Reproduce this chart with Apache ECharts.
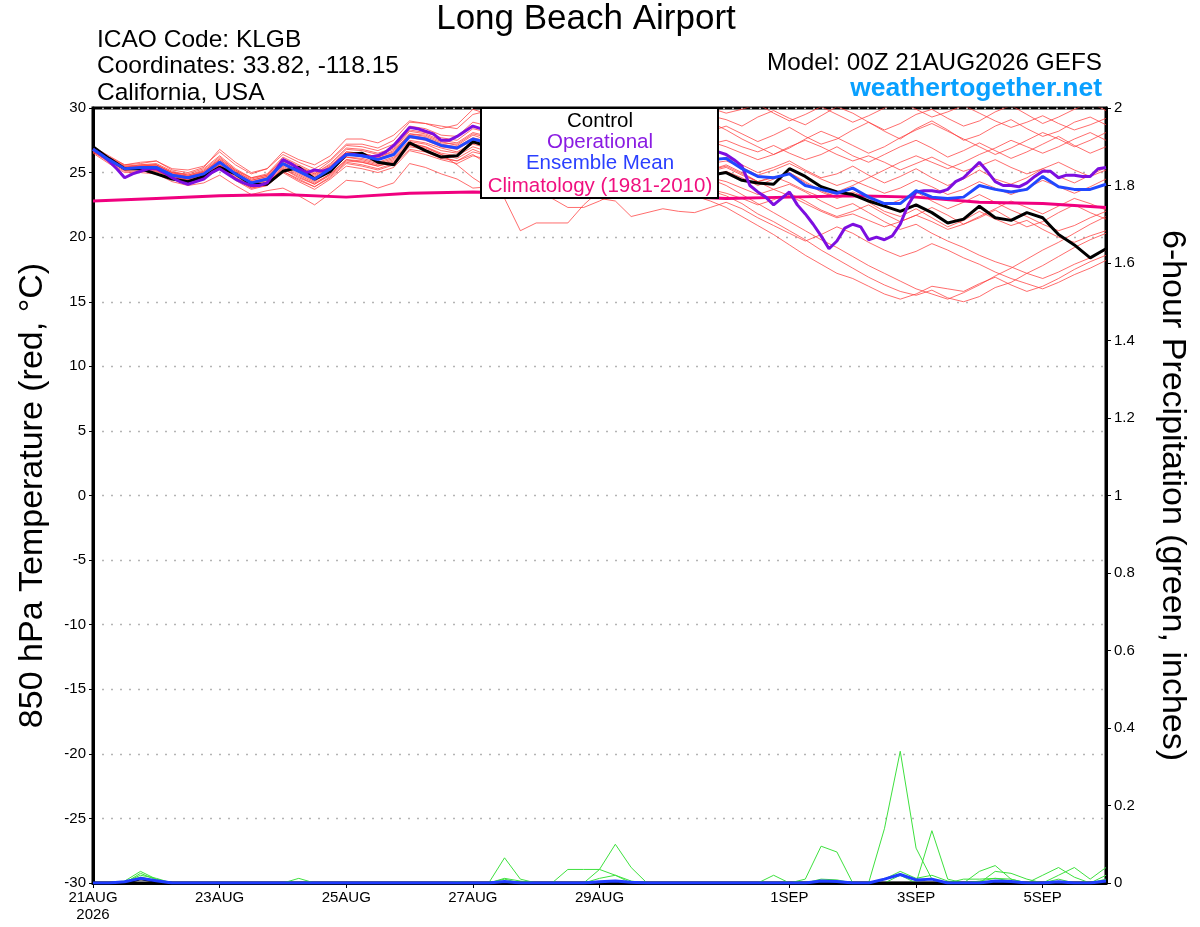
<!DOCTYPE html>
<html>
<head>
<meta charset="utf-8">
<script src="https://cdn.jsdelivr.net/npm/echarts@6/dist/echarts.min.js"></script>
<style>
html,body{margin:0;padding:0;background:#fff;overflow:hidden;}
#chart{width:1200px;height:927px;}
</style>
</head>
<body>
<div id="chart"></div>
<script>
// ---------------- DATA ----------------
// x-axis ticks (forecast hours from 00Z 21AUG2026)
const tickHours  = [0, 48, 96, 144, 192, 264, 312, 360];
const tickLabels = ['21AUG\n2026', '23AUG', '25AUG', '27AUG', '29AUG', '1SEP', '3SEP', '5SEP'];

// Control run (6-hourly, 65 points)
const controlTemp = [27.0,26.1,25.3,25.3,24.9,24.5,24.3,24.7,25.4,24.9,24.1,24.1,25.1,25.4,24.5,25.1,26.4,26.5,25.8,25.6,27.3,26.7,26.2,26.3,27.4,
  27.0,26.6,26.9,26.2,25.8,25.5,25.9,25.6,25.2,25.0,25.4,25.1,24.8,25.2,24.8,
  25.0,24.4,24.2,24.1,25.3,24.7,23.9,23.5,23.3,22.8,22.4,22.0,22.5,21.9,21.1,21.4,22.4,21.5,21.3,21.9,21.5,20.2,19.4,18.4,19.1];

// Ensemble mean (6-hourly)
const meanTemp = [26.8,26.0,25.3,25.4,25.4,24.8,24.6,24.9,25.8,24.9,24.2,24.5,25.7,25.1,24.5,25.3,26.4,26.3,26.0,26.4,27.8,27.6,27.1,26.9,27.6,
  27.3,27.0,27.4,27.1,26.7,26.5,26.8,26.6,26.2,26.0,26.3,26.1,25.8,26.2,26.0,
  26.1,25.3,24.7,24.6,24.9,24.0,23.7,23.4,23.8,23.1,22.6,22.6,23.6,23.1,23.0,23.1,24.0,23.7,23.5,23.7,24.7,23.9,23.7,23.7,24.1];

// Operational run (3-hourly, 129 points)
const operationalTemp = [26.8,26.4,25.9,25.3,24.6,24.9,25.1,25.3,25.3,25.0,24.6,24.3,24.1,24.3,24.5,25.0,25.3,24.9,24.5,24.2,24.0,24.0,24.2,25.1,26.0,
  25.7,25.3,25.0,25.2,25.1,25.3,25.9,26.4,26.4,26.3,26.2,26.3,26.6,27.1,27.8,28.5,28.4,28.2,28.0,27.5,27.5,27.8,28.2,28.6,
  28.4,28.0,27.6,27.9,28.3,28.8,28.5,27.9,27.4,27.0,26.6,26.8,27.2,27.5,27.1,26.7,26.3,26.0,26.2,26.6,27.0,26.8,26.4,26.1,25.8,26.0,26.3,26.7,26.9,26.8,
  26.6,26.4,26.0,25.5,24.0,23.5,23.1,22.5,23.0,23.5,22.5,21.8,21.0,20.1,19.1,19.7,20.7,21.0,20.8,19.8,20.0,19.8,20.1,
  21.0,22.5,23.5,23.6,23.6,23.5,23.7,24.3,24.6,25.2,25.8,25.1,24.3,24.0,24.0,23.9,24.2,24.7,25.1,25.1,24.6,24.8,24.8,24.7,24.7,25.3,25.4];

// Climatology 1981-2010 (daily, 17 points)
const climTemp = [22.8,23.0,23.2,23.3,23.1,23.4,23.5,23.4,23.3,23.2,23.0,23.1,23.2,23.1,22.7,22.6,22.3];

// Ensemble members (6-hourly)
const member01 = [27.0,26.3,25.6,25.8,25.9,25.3,25.2,25.5,26.6,25.6,24.9,25.3,26.6,26.0,25.6,26.3,27.6,27.6,27.3,27.9,29.0,28.8,28.6,28.4,29.5,
  29.8,30.2,29.6,29.1,28.7,29.3,29.8,29.2,28.6,28.9,29.5,29.0,28.4,28.8,29.4,
  29.1,28.6,29.3,29.8,29.2,28.7,29.4,30.1,29.6,28.9,28.3,28.8,29.5,29.9,29.2,28.6,29.0,29.7,30.2,29.5,28.8,29.3,29.9,30.4,29.8];
const member02 = [26.9,26.2,25.5,25.6,25.6,25.0,24.9,25.3,26.3,25.3,24.6,24.9,26.2,25.6,25.0,25.9,27.1,27.0,26.7,27.2,28.6,28.4,27.9,27.8,28.9,
  28.6,28.2,28.8,28.3,27.9,28.4,28.9,28.3,27.8,27.5,28.1,28.6,28.0,27.6,28.2,
  28.6,28.0,27.4,27.9,28.5,27.8,27.2,27.6,28.3,28.9,28.2,27.6,28.4,29.0,28.3,27.5,27.9,28.6,29.1,28.4,27.8,28.2,28.9,29.3,28.7];
const member03 = [26.7,26.1,25.4,25.6,25.7,25.1,24.8,25.1,26.1,25.2,24.5,24.8,26.0,25.4,24.9,25.6,26.8,26.7,26.4,26.8,28.2,28.0,27.5,27.3,28.1,
  27.8,27.4,27.9,27.5,27.1,26.8,27.3,27.0,26.6,26.9,27.4,26.9,26.5,26.8,27.2,
  27.5,27.0,26.6,27.1,26.5,26.0,26.4,27.0,26.3,25.8,26.4,27.0,27.5,26.9,26.2,26.7,27.3,26.7,26.1,26.6,27.2,27.8,27.1,26.5,27.0];
const member04 = [26.8,26.0,25.3,25.5,25.5,24.9,24.7,25.0,25.9,25.0,24.3,24.6,25.8,25.2,24.6,25.4,26.5,26.4,26.1,26.5,27.9,27.7,27.2,27.0,27.7,
  27.4,27.0,27.5,27.1,26.7,26.4,26.8,26.5,26.1,25.9,26.4,26.0,25.6,26.0,25.8,
  26.2,25.6,25.0,25.4,25.9,25.2,24.6,24.9,25.5,24.8,24.2,24.7,25.3,24.6,24.0,24.5,25.2,24.5,24.1,24.6,25.3,24.7,24.2,24.8,25.4];
const member05 = [26.6,25.9,25.2,25.3,25.3,24.7,24.5,24.8,25.6,24.8,24.1,24.4,25.6,25.0,24.4,25.2,26.2,26.1,25.8,26.2,27.5,27.3,26.9,26.6,27.3,
  27.0,26.7,27.1,26.8,26.3,26.0,26.4,26.1,25.7,25.4,25.8,25.5,25.1,25.4,25.2,
  25.5,24.9,24.3,24.6,25.0,24.2,23.5,23.0,23.4,22.7,22.0,21.6,22.2,21.5,20.8,21.3,22.0,21.4,20.9,21.3,20.6,20.0,19.6,20.1,20.5];
const member06 = [26.7,25.9,25.2,25.3,25.2,24.6,24.4,24.7,25.5,24.6,23.9,24.2,25.3,24.7,24.1,24.9,26.0,25.8,25.5,25.9,27.2,27.0,26.5,26.3,27.0,
  26.6,26.2,26.5,26.1,25.7,25.3,25.7,25.4,25.0,24.7,25.1,24.8,24.3,24.0,23.6,
  23.2,22.6,21.8,21.2,20.5,19.8,19.0,18.3,17.6,16.9,16.3,15.8,15.5,15.9,15.3,15.0,15.4,16.1,16.5,17.2,17.8,18.5,19.2,19.8,20.3];
const member07 = [26.6,25.8,25.1,25.1,25.1,24.5,24.3,24.5,25.3,24.5,23.8,24.1,25.1,24.4,23.9,24.6,25.7,25.5,25.2,25.6,26.8,26.6,26.1,25.9,26.6,
  26.3,25.9,26.2,25.8,25.4,25.0,25.3,25.0,24.6,24.2,24.5,24.1,23.6,23.2,22.8,
  22.3,21.6,20.9,20.2,19.4,18.6,17.9,17.2,16.8,16.2,15.6,15.2,15.6,16.2,16.0,15.8,16.4,16.9,16.3,15.8,16.2,16.8,17.5,18.1,18.6];
const member08 = [26.5,25.7,25.0,25.0,24.9,24.3,24.0,24.2,24.8,24.0,23.3,23.6,23.8,23.2,22.5,23.4,24.4,24.3,23.8,24.2,25.7,25.4,24.9,24.5,23.8,
  23.9,24.3,24.8,24.5,24.1,23.7,24.2,24.6,24.3,24.0,24.5,24.9,24.4,24.0,23.7,
  23.4,23.0,22.5,22.9,23.4,22.8,22.1,21.6,22.0,22.5,21.8,21.2,21.7,22.3,21.7,21.0,21.5,22.1,21.4,20.8,21.2,21.9,22.5,21.9,21.4];
const member09 = [26.8,26.1,25.4,25.4,25.4,24.8,24.5,24.8,25.6,24.7,24.0,24.3,25.4,24.8,24.2,24.9,26.0,25.9,25.6,26.0,27.3,27.0,26.4,25.6,24.6,
  23.8,23.0,20.5,21.1,21.1,21.1,22.5,23.6,24.4,24.9,25.3,24.8,24.4,24.8,25.2,
  25.6,25.0,24.3,23.7,24.1,23.5,22.8,22.2,22.6,21.9,21.2,20.6,21.0,20.3,19.7,19.2,18.6,18.1,17.7,17.2,16.8,17.3,17.9,18.4,19.0];
const member10 = [26.9,26.1,25.4,25.3,25.2,24.6,24.4,24.6,25.4,24.5,23.8,24.0,25.1,24.5,23.9,24.7,25.8,25.6,25.3,25.7,27.0,26.8,26.2,25.9,26.4,
  25.6,24.9,24.2,23.6,23.0,22.3,22.3,22.8,23.4,24.0,24.6,25.1,24.7,24.3,24.7,
  25.1,24.6,24.0,24.5,25.0,24.3,23.6,23.1,23.5,23.0,22.4,22.9,23.5,22.8,22.2,22.7,23.3,22.7,22.1,21.6,21.0,20.5,20.9,21.5,22.0];
const member11 = [26.7,26.0,25.3,25.2,25.2,24.7,24.4,24.7,25.5,24.6,23.9,24.2,25.3,24.6,24.1,24.8,25.9,25.8,25.5,25.8,27.1,26.9,26.4,26.1,26.8,
  26.3,25.8,25.2,24.6,24.0,23.6,23.3,23.0,22.8,21.6,21.9,22.2,22.0,21.9,22.3,
  22.7,22.2,21.5,20.9,20.3,19.7,20.2,20.8,20.3,19.6,19.0,18.5,18.9,19.5,19.0,18.4,17.9,17.3,16.8,16.4,16.0,16.5,17.1,17.6,18.2];
const member12 = [26.9,26.2,25.6,25.7,25.9,25.2,25.0,25.4,26.8,25.8,25.0,25.3,26.4,25.8,25.3,26.0,27.2,27.2,26.9,27.5,28.9,28.8,28.4,28.7,29.9,
  29.5,29.0,29.8,30.3,29.7,29.1,28.6,29.2,29.8,29.3,28.7,28.2,28.8,29.4,28.9,
  28.3,27.6,27.0,26.4,26.9,27.6,28.2,27.7,27.1,26.5,27.0,27.7,28.3,28.8,28.2,27.6,27.0,26.4,26.9,27.5,28.1,27.6,27.0,27.5,28.1];
const member13 = [26.8,26.0,25.3,25.4,25.5,24.9,24.7,25.1,26.0,25.1,24.4,24.7,25.9,25.3,24.8,25.5,26.6,26.5,26.2,26.7,28.0,27.9,27.4,27.1,27.9,
  27.5,27.1,26.8,27.2,26.8,26.3,25.9,26.3,25.9,25.5,25.1,25.5,25.1,24.7,25.1,
  25.4,24.8,24.3,24.7,24.2,23.6,23.1,23.5,24.0,24.6,25.2,25.8,26.3,25.8,25.3,25.8,26.4,26.9,27.5,27.0,26.5,27.0,27.6,28.1,27.5];
const member14 = [26.6,25.9,25.2,25.2,25.1,24.6,24.3,24.6,25.3,24.4,23.7,24.0,25.0,24.3,23.7,24.5,25.5,25.3,25.0,25.4,26.7,26.4,26.0,25.7,26.3,
  26.0,25.6,25.9,25.5,25.1,24.8,25.2,24.9,24.5,24.2,24.6,24.2,23.8,24.2,24.5,
  24.0,23.3,22.6,21.9,21.2,20.5,19.8,19.2,18.5,17.8,17.2,16.6,16.0,15.6,15.2,15.7,16.3,17.0,17.6,18.3,19.0,19.6,20.3,21.0,21.6];
const member15 = [26.9,26.1,25.5,25.5,25.6,25.0,24.8,25.2,26.2,25.2,24.6,24.8,26.1,25.5,24.9,25.7,26.9,26.8,26.5,26.9,28.3,28.1,27.7,27.5,28.4,
  28.1,27.7,28.2,27.8,27.4,27.0,27.5,27.9,27.4,27.0,27.4,27.9,27.5,27.0,27.4,
  27.0,26.5,26.0,26.4,27.0,27.5,27.0,26.4,25.9,26.3,25.8,25.2,25.7,26.2,25.6,25.1,25.5,26.0,25.4,24.9,25.3,25.8,25.2,24.7,25.2];
const member16 = [26.7,26.0,25.4,25.5,25.6,25.0,24.7,25.0,26.0,25.1,24.4,24.7,25.9,25.3,24.7,25.5,26.6,26.5,26.2,26.6,28.0,27.8,27.3,27.2,28.0,
  27.7,27.3,27.7,27.3,26.9,27.3,27.8,28.3,27.9,28.4,28.9,29.4,28.9,29.4,30.0,
  29.6,29.9,30.3,29.6,29.0,29.5,30.1,29.5,28.9,29.4,30.0,30.5,29.9,29.3,29.7,30.2,29.6,29.0,28.5,28.9,29.4,28.8,28.3,28.7,29.2];
const member17 = [26.7,25.9,25.2,25.3,25.3,24.7,24.5,24.8,25.6,24.8,24.1,24.4,25.5,24.9,24.3,25.1,26.2,26.0,25.7,26.1,27.4,27.2,26.7,26.5,27.2,
  26.9,26.5,26.9,26.5,26.1,25.7,26.1,25.7,25.3,25.0,25.4,25.0,24.6,24.9,24.6,
  24.3,23.8,23.3,23.7,23.2,22.6,22.0,21.5,21.8,21.3,20.8,21.2,21.7,21.2,20.6,21.0,21.6,22.2,22.8,22.3,21.8,22.4,23.0,22.6,22.1];
const member18 = [26.8,26.1,25.3,25.5,25.4,24.8,24.6,24.9,25.8,24.9,24.2,24.5,25.7,25.1,24.6,25.3,26.4,26.3,26.1,26.4,27.7,27.5,27.0,26.8,27.5,
  27.2,26.8,27.2,26.8,26.4,26.0,26.4,26.0,25.6,25.3,25.7,25.3,24.9,25.3,25.7,
  25.9,25.4,24.8,25.2,25.7,25.1,24.5,24.0,24.4,23.9,23.4,23.8,24.4,23.9,23.3,23.7,24.3,23.8,23.3,23.8,24.4,23.9,23.4,23.9,24.5];
const tempMembers = [member01,member02,member03,member04,member05,member06,member07,member08,member09,
  member10,member11,member12,member13,member14,member15,member16,member17,member18];

// 6-hour precipitation (inches)
const precipMember01 = [0,0,0.005,0.03,0.01,0,0,0,0,0, 0,0,0,0,0,0,0,0,0,0, 0,0,0,0,0,0,0.065,0.01,0,0,
  0,0,0,0,0,0,0,0,0,0, 0,0,0,0,0,0,0,0,0,0, 0.14,0.34,0.09,0.01,0,0,0.03,0.045,0.01,0, 0,0.02,0.04,0.01,0.04];
const precipMember02 = [0,0,0.002,0.02,0.012,0,0,0,0,0, 0,0,0,0.012,0,0,0,0,0,0, 0,0,0,0,0,0,0,0,0,0,
  0,0,0.035,0.1,0.04,0,0,0,0,0, 0,0,0,0,0,0.01,0.095,0.08,0,0, 0,0,0,0.135,0.01,0,0,0.03,0.025,0.01, 0,0,0,0,0.01];
const precipMember03 = [0,0,0,0.025,0.008,0,0,0,0,0, 0,0,0,0,0,0,0,0,0,0, 0,0,0,0.003,0,0,0.01,0,0,0,
  0.035,0.035,0.035,0.02,0,0,0,0,0,0, 0,0,0,0.02,0,0,0,0,0,0, 0,0.02,0,0,0,0.01,0.01,0.012,0.005,0, 0.02,0.04,0.015,0,0];
const precipMember04 = [0,0,0.004,0.015,0.006,0,0,0,0,0, 0,0,0,0,0,0,0,0,0,0, 0,0,0,0,0,0,0.012,0.005,0,0,
  0,0,0.012,0.02,0.005,0,0,0,0,0, 0,0,0,0,0,0,0.01,0.008,0,0, 0.01,0.03,0.012,0.02,0.005,0,0.005,0.012,0.01,0, 0,0.01,0,0,0.02];
const precipMembers = [precipMember01, precipMember02, precipMember03, precipMember04];
const precipMean = [0,0,0.003,0.012,0.006,0,0,0,0,0, 0,0,0,0,0,0,0,0,0,0, 0,0,0,0,0,0,0.004,0,0,0,
  0,0,0.003,0.005,0.002,0,0,0,0,0, 0,0,0,0,0,0,0.005,0.004,0,0, 0.01,0.022,0.008,0.01,0,0,0,0.005,0.004,0, 0,0.003,0,0,0.005];
const precipControl = [0,0,0,0.01,0.004,0,0,0,0,0, 0,0,0,0,0,0,0,0,0,0, 0,0,0,0,0,0,0,0,0,0,
  0,0,0,0,0,0,0,0,0,0, 0,0,0,0,0,0,0,0,0,0, 0,0,0,0,0,0,0,0,0,0, 0,0,0,0,0];

// ---------------- CHART ----------------
const FONT = 'Liberation Sans, Arial, Helvetica, sans-serif';
const step6 = a => a.map((v, i) => [i * 6, v]);
const step3 = a => a.map((v, i) => [i * 3, v]);
const step24 = a => a.map((v, i) => [i * 24, v]);

const series = [];
tempMembers.forEach((m, k) => series.push({
  name: 'member' + (k + 1), type: 'line', data: step6(m), yAxisIndex: 0,
  symbol: 'none', silent: true, z: 2,
  lineStyle: { color: 'rgba(255,60,60,0.75)', width: 1 }
}));
precipMembers.forEach((m, k) => series.push({
  name: 'precipMember' + (k + 1), type: 'line', data: step6(m), yAxisIndex: 1,
  symbol: 'none', silent: true, z: 2,
  lineStyle: { color: '#3ee03e', width: 1 }
}));
series.push({ name: 'precipControl', type: 'line', data: step6(precipControl), yAxisIndex: 1,
  symbol: 'none', z: 3, lineStyle: { color: '#000', width: 2.5 } });
series.push({ name: 'precipMean', type: 'line', data: step6(precipMean), yAxisIndex: 1,
  symbol: 'none', z: 4, lineStyle: { color: '#1f3cff', width: 3 } });
series.push({ name: 'Climatology', type: 'line', data: step24(climTemp), yAxisIndex: 0,
  symbol: 'none', z: 5, lineStyle: { color: '#f0007f', width: 3 } });
series.push({ name: 'Control', type: 'line', data: step6(controlTemp), yAxisIndex: 0,
  symbol: 'none', z: 6, lineStyle: { color: '#000000', width: 3 } });
series.push({ name: 'Operational', type: 'line', data: step3(operationalTemp), yAxisIndex: 0,
  symbol: 'none', z: 7, lineStyle: { color: '#7d0ee0', width: 3 } });
series.push({ name: 'Ensemble Mean', type: 'line', data: step6(meanTemp), yAxisIndex: 0,
  symbol: 'none', z: 8, lineStyle: { color: '#2148ff', width: 3 } });

const txt = (x, y, text, size, color, align, weight) => ({
  type: 'text', x: x, y: y, z: 101,
  style: { text: text, fill: color, font: (weight || 'normal') + ' ' + size + 'px ' + FONT,
    textAlign: align, textVerticalAlign: 'middle' }
});

const chart = echarts.init(document.getElementById('chart'), null, { renderer: 'canvas' });
chart.setOption({
  animation: false,
  backgroundColor: '#ffffff',
  textStyle: { fontFamily: FONT },
  grid: { left: 93, right: 94, top: 108, bottom: 44, show: true,
    borderColor: '#000', borderWidth: 3, backgroundColor: 'rgba(0,0,0,0)',
    containLabel: false, outerBoundsMode: 'none' },
  xAxis: {
    type: 'value', min: 0, max: 384,
    axisLine: { show: true, onZero: false, lineStyle: { color: '#000', width: 3 } },
    axisTick: { show: true, length: 5, customValues: tickHours, lineStyle: { color: '#000', width: 1 } },
    axisLabel: { customValues: tickHours, margin: 6, fontSize: 15, color: '#000', fontFamily: FONT, lineHeight: 17,
      formatter: v => tickLabels[tickHours.indexOf(v)] || '' },
    splitLine: { show: false }
  },
  yAxis: [
    { type: 'value', min: -30, max: 30, interval: 5, position: 'left',
      name: '850 hPa Temperature (red, \u00B0C)', nameLocation: 'middle', nameGap: 43, nameRotate: 90,
      nameTextStyle: { fontFamily: FONT, fontSize: 34, color: '#000' },
      axisLine: { show: true, lineStyle: { color: '#000', width: 3 } },
      axisTick: { show: true, length: 4, lineStyle: { color: '#000' } },
      axisLabel: { margin: 7, fontSize: 15, color: '#000', fontFamily: FONT },
      splitLine: { show: true, lineStyle: { color: '#b4b4b4', width: 1.3, type: [2, 7] } }
    },
    { type: 'value', min: 0, max: 2, interval: 0.2, position: 'right',
      name: '6-hour Precipitation (green, inches)', nameLocation: 'middle', nameGap: 49, nameRotate: -90,
      nameTextStyle: { fontFamily: FONT, fontSize: 34, color: '#000' },
      axisLine: { show: true, lineStyle: { color: '#000', width: 3 } },
      axisTick: { show: true, length: 5, lineStyle: { color: '#000' } },
      axisLabel: { margin: 8, fontSize: 15, color: '#000', fontFamily: FONT,
        formatter: v => String(+v.toFixed(1)) },
      splitLine: { show: false }
    }
  ],
  graphic: [
    txt(586, 19, 'Long Beach Airport', 35, '#000', 'center'),
    txt(97, 40, 'ICAO Code: KLGB', 24.5, '#000', 'left'),
    txt(97, 66, 'Coordinates: 33.82, -118.15', 24.5, '#000', 'left'),
    txt(97, 93, 'California, USA', 24.5, '#000', 'left'),
    txt(1102, 63, 'Model: 00Z 21AUG2026 GEFS', 24.3, '#000', 'right'),
    txt(1102, 89, 'weathertogether.net', 26.5, '#09a0ff', 'right', 'bold'),
    { type: 'group', x: 481, y: 108, z: 100, children: [
      { type: 'rect', shape: { x: 0, y: 0, width: 237, height: 90 },
        style: { fill: '#fff', stroke: '#000', lineWidth: 2 }, z: 100 },
      txt(119, 13, 'Control', 20.5, '#000', 'center'),
      txt(119, 34, 'Operational', 20.5, '#8a1be2', 'center'),
      txt(119, 55, 'Ensemble Mean', 20.5, '#2a3fff', 'center'),
      txt(119, 78, 'Climatology (1981-2010)', 20.5, '#f0107f', 'center')
    ]}
  ],
  series: series
});
</script>
</body>
</html>
